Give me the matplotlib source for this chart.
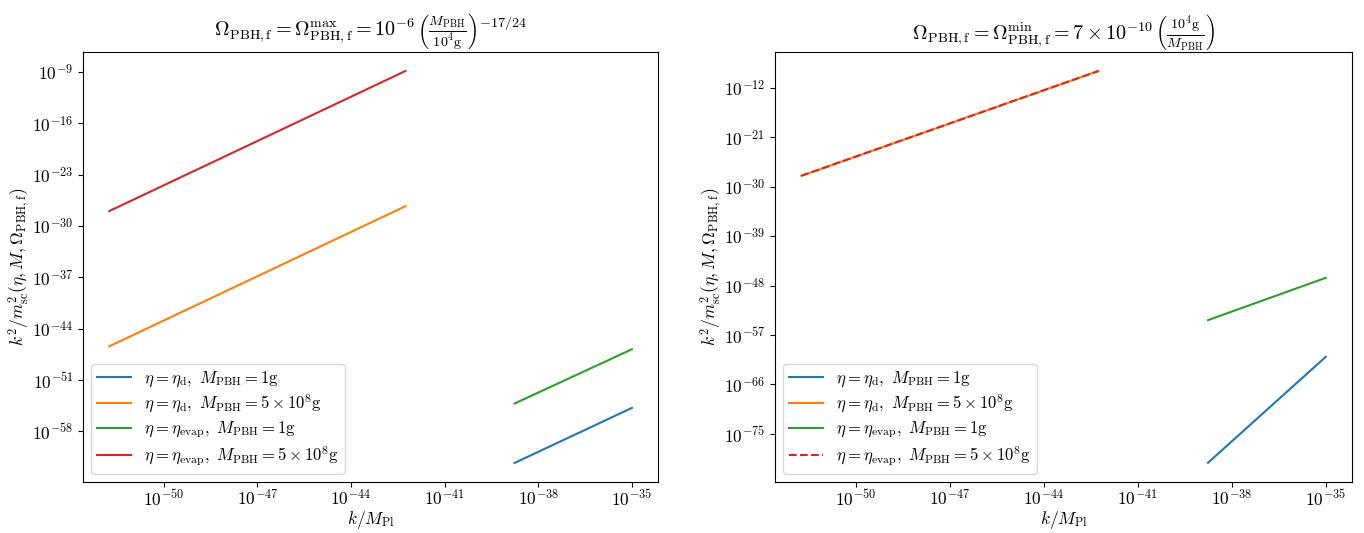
import numpy as np
import matplotlib
matplotlib.use("Agg")
import matplotlib.pyplot as plt

plt.rcParams['mathtext.fontset'] = 'cm'
plt.rcParams['font.family'] = 'serif'
plt.rcParams['font.serif'] = ['cmr10', 'DejaVu Serif']
plt.rcParams['axes.formatter.use_mathtext'] = True

# k/M_Pl endpoints for each curve (log10 values)
k_d_small = [10**-38.76, 10**-35.0]      # eta_d / eta_evap, M=1g
k_large = [10**-51.75, 10**-42.26]       # M = 5e8 g

# Left panel: Omega = Omega_max
left_d_1g = [10**-62.3, 10**-54.8]
left_d_5e8 = [10**-46.4, 10**-27.3]
left_ev_1g = [10**-54.2, 10**-46.8]
left_ev_5e8 = [10**-27.96, 10**-8.86]

# Right panel: Omega = Omega_min
right_d_1g = [10**-80.3, 10**-61.0]
right_d_5e8 = [10**-28.0, 10**-8.9]
right_ev_1g = [10**-54.3, 10**-46.6]
right_ev_5e8 = [10**-28.0, 10**-8.9]

labels = [r'$\eta=\eta_{\rm d},\ M_{\rm PBH}=1{\rm g}$',
          r'$\eta=\eta_{\rm d},\ M_{\rm PBH}=5\times10^8{\rm g}$',
          r'$\eta=\eta_{\rm evap},\ M_{\rm PBH}=1{\rm g}$',
          r'$\eta=\eta_{\rm evap},\ M_{\rm PBH}=5\times10^8{\rm g}$']

fig = plt.figure(figsize=(13.64, 5.33), dpi=100)
ax1 = fig.add_axes([0.0609, 0.0957, 0.4216, 0.8067])
ax2 = fig.add_axes([0.5682, 0.0957, 0.4230, 0.8067])

ax1.loglog(k_d_small, left_d_1g, color='C0', lw=1.5, label=labels[0])
ax1.loglog(k_large, left_d_5e8, color='C1', lw=1.5, label=labels[1])
ax1.loglog(k_d_small, left_ev_1g, color='C2', lw=1.5, label=labels[2])
ax1.loglog(k_large, left_ev_5e8, color='C3', lw=1.5, label=labels[3])

ax2.loglog(k_d_small, right_d_1g, color='C0', lw=1.5, label=labels[0])
ax2.loglog(k_large, right_d_5e8, color='C1', lw=1.5, label=labels[1])
ax2.loglog(k_d_small, right_ev_1g, color='C2', lw=1.5, label=labels[2])
ax2.loglog(k_large, right_ev_5e8, color='C3', lw=1.5, ls='--', label=labels[3])

ax1.set_yticks([10.0**e for e in range(-58, -8, 7)])
ax2.set_yticks([10.0**e for e in range(-75, -11, 9)])
for ax in (ax1, ax2):
    ax.set_xticks([10.0**e for e in range(-50, -34, 3)])
    ax.minorticks_off()
    ax.tick_params(labelsize=12.5)
    ax.tick_params(axis='x', pad=1.0)
    ax.set_xlabel(r'$k/M_{\rm Pl}$', fontsize=12.5, va='top')
    ax.set_ylabel(r'$k^2/m_{\rm sc}^2(\eta,M,\Omega_{\rm PBH,f})$', fontsize=12.5)
    ax.xaxis.set_label_coords(0.5, -0.062)
    ax.yaxis.set_label_coords(-0.089, 0.5)
    ax.legend(loc='lower left', fontsize=12, labelspacing=0.25, borderpad=0.35)

ax1.set_xlim(10**-52.59, 10**-34.16)
ax2.set_xlim(10**-52.59, 10**-34.16)
ax1.set_ylim(10**-64.9, 10**-6.27)
ax2.set_ylim(10**-83.8, 10**-5.44)

ax1.set_title(r'$\Omega_{\rm PBH,f}=\Omega_{\rm PBH,f}^{\rm max}=10^{-6}\,\left(\frac{M_{\rm PBH}}{10^4{\rm g}}\right)^{-17/24}$', fontsize=14.5, pad=8)
ax2.set_title(r'$\Omega_{\rm PBH,f}=\Omega_{\rm PBH,f}^{\rm min}=7\times10^{-10}\,\left(\frac{10^4{\rm g}}{M_{\rm PBH}}\right)$', fontsize=14.5, pad=8)

fig.savefig('out.png', dpi=100)
